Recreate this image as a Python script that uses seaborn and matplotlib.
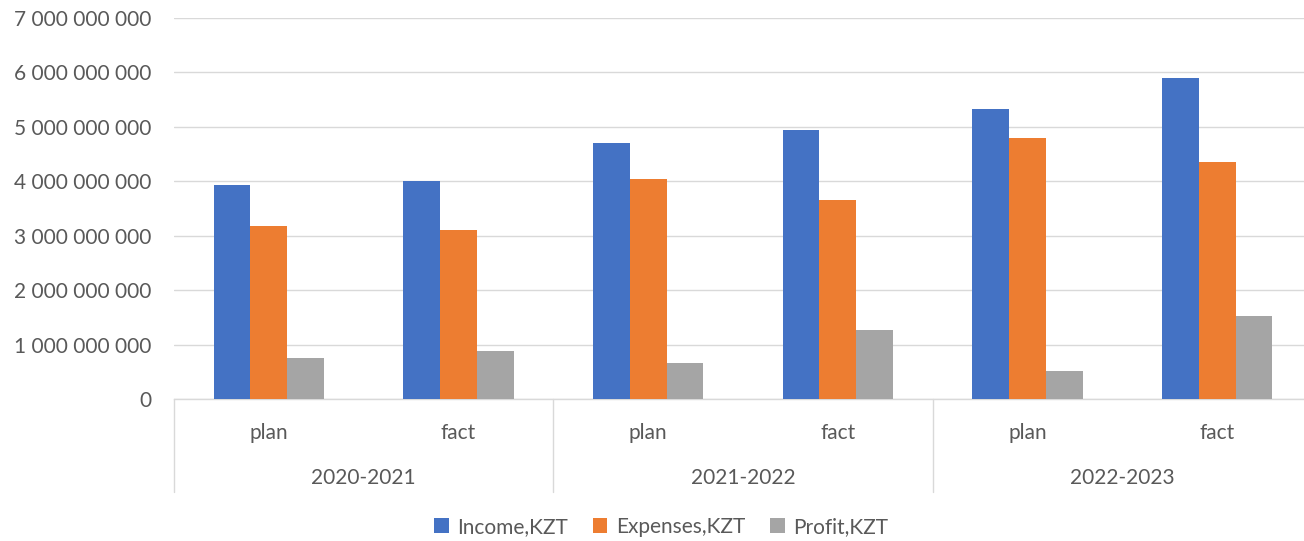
import matplotlib
matplotlib.use("Agg")
import matplotlib.pyplot as plt
import matplotlib.ticker as mticker
from matplotlib.patches import Patch
import seaborn as sns
import pandas as pd

years = ["2020-2021", "2021-2022", "2022-2023"]
stages = ["plan", "fact"]
series = ["Income,KZT", "Expenses,KZT", "Profit,KZT"]
income = [3.94e9, 4.00e9, 4.71e9, 4.95e9, 5.32e9, 5.89e9]
expenses = [3.18e9, 3.10e9, 4.05e9, 3.66e9, 4.79e9, 4.36e9]
profit = [0.76e9, 0.875e9, 0.67e9, 1.26e9, 0.52e9, 1.52e9]
colors = ["#4472C4", "#ED7D31", "#A5A5A5"]

cats = [f"{y} {s}" for y in years for s in stages]
rows = []
for name, vals in zip(series, [income, expenses, profit]):
    for c, v in zip(cats, vals):
        rows.append({"cat": c, "series": name, "value": v})
df = pd.DataFrame(rows)

sns.set_theme(style="white")
plt.rcParams["font.family"] = ["Lato", "DejaVu Sans"]
text_color = "#595959"
fs = 15

fig = plt.figure(figsize=(13.04, 5.41), dpi=100)
ax = fig.add_axes([174 / 1304, 1 - 399 / 541, (1312 - 174) / 1304, (399 - 18) / 541])

sns.barplot(data=df, x="cat", y="value", hue="series", order=cats, hue_order=series,
            palette=colors, width=0.58, saturation=1, ax=ax, legend=False, zorder=3,
            edgecolor="none", linewidth=0)

ax.set_ylim(0, 7e9)
ax.set_xlim(-0.5, len(cats) - 0.5)
ax.yaxis.set_major_locator(mticker.MultipleLocator(1e9))
ax.yaxis.set_major_formatter(mticker.FuncFormatter(lambda v, p: f"{int(round(v)):,}".replace(",", " ")))
ax.grid(axis="y", color="#D9D9D9", linewidth=1.0, zorder=0)
ax.set_axisbelow(True)
for s in ["top", "right", "left"]:
    ax.spines[s].set_visible(False)
ax.spines["bottom"].set_color("#D9D9D9")
ax.spines["bottom"].set_linewidth(1.0)
ax.set_xlabel("")
ax.set_ylabel("")
ax.tick_params(axis="y", length=0, pad=16, labelsize=fs, labelcolor=text_color)
ax.set_xticks(range(len(cats)))
ax.set_xticklabels([s for y in years for s in stages])
ax.tick_params(axis="x", length=0, pad=17, labelsize=fs, labelcolor=text_color)

trans = ax.get_xaxis_transform()
for i, y in enumerate(years):
    ax.text(2 * i + 0.5, -79 / 381, y, transform=trans, ha="center", va="center",
            fontsize=fs, color=text_color)
for xs in [-0.5, 1.5, 3.5, 5.5]:
    ax.plot([xs, xs], [0, -93 / 381], transform=trans, color="#D9D9D9",
            linewidth=1.0, clip_on=False)

handles = [Patch(facecolor=c, edgecolor="none", label=n) for c, n in zip(colors, series)]
fig.legend(handles=handles, loc="center", bbox_to_anchor=(661 / 1304, 1 - 527 / 541), ncol=3,
           frameon=False, fontsize=fs, labelcolor=text_color, handlelength=0.7,
           handleheight=0.7, handletextpad=0.4, columnspacing=1.2)

fig.savefig("out.png", dpi=100)
